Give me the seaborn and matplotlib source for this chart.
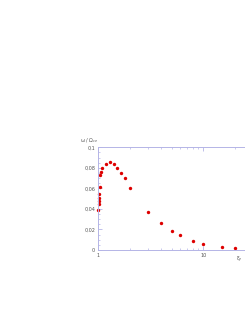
import numpy as np
import matplotlib
matplotlib.use("Agg")
import matplotlib.pyplot as plt
import pandas as pd
import seaborn as sns

# wartosci
xi = [1.0, 1.015, 1.02, 1.025, 1.03, 1.045, 1.05, 1.076, 1.1, 1.2, 1.31, 1.41,
      1.52, 1.66, 1.81, 2.0, 3.0, 4.0, 5.0, 6.0, 8.0, 10.0, 15.0, 20.0]
omega = [0.0393, 0.0448, 0.0477, 0.051, 0.0542, 0.061, 0.0727, 0.0763, 0.0795,
         0.0834, 0.0857, 0.0834, 0.0802, 0.0747, 0.0698, 0.0607, 0.037, 0.0263,
         0.0188, 0.0143, 0.0091, 0.0062, 0.0029, 0.0019]
y_ticks = [0, 0.02, 0.04, 0.06, 0.08, 0.1]
y_labels = ["0", "0,02", "0,04", "0,06", "0,08", "0,1"]

df = pd.DataFrame({"xi": xi, "omega": omega})

sns.set_style("white")
fig = plt.figure(figsize=(2.45, 3.17), dpi=100)
ax = fig.add_axes([0.4, 0.2114, 0.6, 0.324])

sns.scatterplot(data=df, x="xi", y="omega", ax=ax, color="#dd0000",
                marker="o", s=6, linewidth=0)
for c in ax.collections:
    c.set_clip_on(False)

frame = "#b4b4e6"
ax.set_xscale("log")
ax.set_xlim(1, 25)
ax.set_ylim(0, 0.1)
ax.set_yticks(y_ticks)
ax.set_yticklabels(y_labels)
ax.set_xticks([1, 10])
ax.set_xticklabels(["1", "10"])
ax.yaxis.set_minor_locator(matplotlib.ticker.MultipleLocator(0.005))
ax.xaxis.set_minor_locator(matplotlib.ticker.LogLocator(subs=np.arange(2, 10)))
ax.xaxis.set_minor_formatter(matplotlib.ticker.NullFormatter())

for side in ["left", "bottom", "top"]:
    ax.spines[side].set_color(frame)
    ax.spines[side].set_linewidth(0.7)
ax.spines["right"].set_visible(False)

ax.tick_params(which="both", direction="in", color=frame, labelsize=3.5,
               labelcolor="#555555", top=True, bottom=True, left=True, pad=2)
ax.tick_params(which="major", length=3, width=0.6)
ax.tick_params(which="minor", length=1.5, width=0.5)
ax.set_xlabel("")
ax.set_ylabel("")

fig.text(0.327, 0.552, "ω / Ω$_{ce}$", fontsize=3.5, color="#555555")
fig.text(0.965, 0.18, "ξ$_e$", fontsize=3.5, color="#555555")

fig.savefig("out.png", dpi=100)
